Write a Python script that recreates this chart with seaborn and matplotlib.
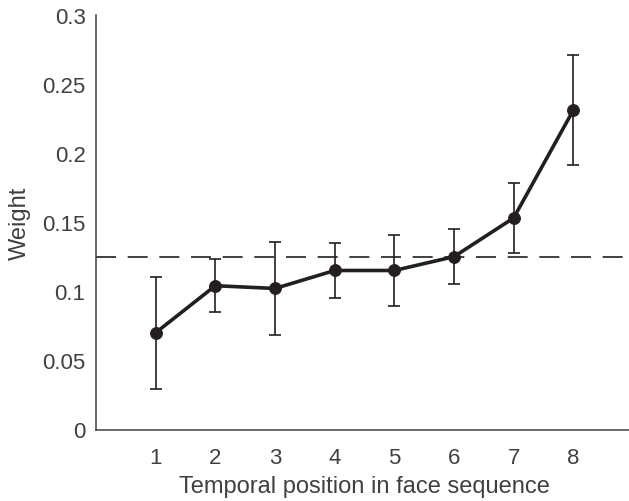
import matplotlib
matplotlib.use("Agg")
import matplotlib.pyplot as plt
import seaborn as sns
import pandas as pd

positions = [1, 2, 3, 4, 5, 6, 7, 8]
weights = [0.070, 0.104, 0.102, 0.115, 0.115, 0.125, 0.153, 0.231]
errors = [0.0405, 0.019, 0.0333, 0.020, 0.026, 0.020, 0.025, 0.040]
chance_level = 0.125
y_ticks = [0, 0.05, 0.1, 0.15, 0.2, 0.25, 0.3]
y_tick_labels = ["0", "0.05", "0.1", "0.15", "0.2", "0.25", "0.3"]

sns.set_style("white")
plt.rcParams['font.family'] = ['Liberation Sans', 'DejaVu Sans']
txt = "#404040"

fig = plt.figure(figsize=(6.29, 5.02), dpi=100)
ax = fig.add_axes([96 / 629, 1 - 430.5 / 502, (633 - 96) / 629, (430.5 - 15.7) / 502])

df = pd.DataFrame({"pos": positions, "w": weights})
ax.errorbar(positions, weights, yerr=errors, fmt="none", ecolor="#231f20",
            elinewidth=1.2, capsize=4, capthick=1.2, zorder=2)
sns.lineplot(data=df, x="pos", y="w", ax=ax, color="#231f20", linewidth=2.6,
             marker="o", markersize=8.5, markeredgecolor="#231f20", zorder=3)
ax.axhline(chance_level, color="#231f20", linewidth=1.2,
           linestyle=(0, (12.0, 7.0)), zorder=1)

ax.set_xlim(0, 9)
ax.set_ylim(0, 0.3)
ax.set_xticks(positions)
ax.set_xticklabels([str(p) for p in positions])
ax.set_yticks(y_ticks)
ax.set_yticklabels(y_tick_labels)
ax.tick_params(direction="in", length=4, width=1, colors=txt, labelsize=16)
ax.tick_params(axis="y", pad=7.5)
ax.tick_params(axis="x", pad=12.5)
for s in ["top", "right"]:
    ax.spines[s].set_visible(False)
for s in ["left", "bottom"]:
    ax.spines[s].set_color(txt)
    ax.spines[s].set_linewidth(1.1)
ax.set_xlabel("Temporal position in face sequence", fontsize=17, color=txt, labelpad=5.5)
ax.set_ylabel("Weight", fontsize=17, color=txt, labelpad=8)

fig.savefig("out.png", dpi=100)
